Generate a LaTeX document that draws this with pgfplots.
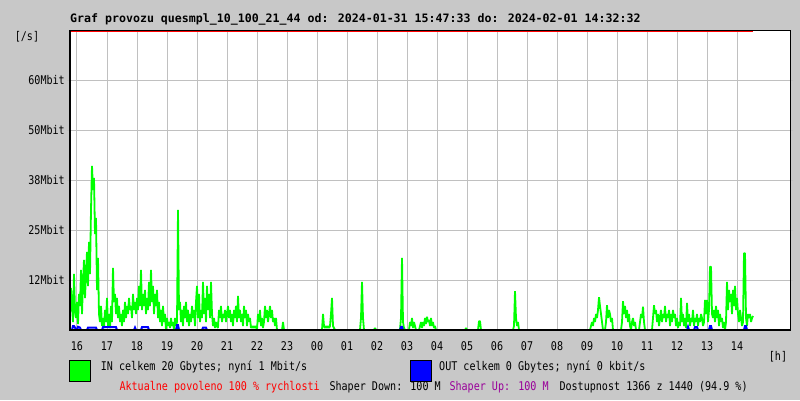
\documentclass[border=0pt]{standalone}
\usepackage{fontspec}
\usepackage{pgfplots}
\pgfplotsset{compat=1.18}
\newfontfamily\monof[FakeStretch=0.84]{DejaVu Sans Mono}
\newfontfamily\monot{DejaVu Sans Mono}
\newcommand{\mono}{\monof\fontsize{12}{12}\selectfont}
\definecolor{bg}{RGB}{200,200,200}
\definecolor{gridc}{RGB}{192,192,192}
\definecolor{ingreen}{RGB}{0,255,0}
\definecolor{outblue}{RGB}{0,0,255}
\definecolor{purp}{RGB}{153,0,153}
\pgfplotstableread{
k y
0 4
1 10.5
2 6
3 2
4 14
5 5
6 3
7 7
8 1.5
9 9
10 6
11 15
12 4
13 12
14 17.5
15 8
16 14
17 19.5
18 11
19 22
20 14
21 30
22 41
23 35
24 38
25 24
26 28
27 10
28 18
29 4
30 2
31 6
32 1
33 3
34 0.5
35 5
36 2
37 8
38 1
39 4
40 0.5
41 6
42 2
43 15.5
44 7
45 9
46 4
47 8
48 3
49 6
50 2
51 4
52 1
53 5
54 2
55 7
56 3
57 6
58 4
59 8
60 5
61 6
62 3
63 9
64 5
65 7
66 4
67 8
68 5
69 11
70 6
71 15
72 5
73 9
74 6
75 10
76 4
77 8
78 5
79 12
80 6
81 15
82 7
83 11
84 4
85 9
86 6
87 10
88 3
89 7
90 2
91 5
92 1
93 6
94 2
95 4
96 0
97 3
98 1
99 2
100 0.5
101 3
102 1
103 2
104 0
105 3
106 1
107 2
108 30
109 5
110 7
111 2
112 5
113 1
114 6
115 3
116 7
117 2
118 5
119 1
120 4
121 2
122 6
123 3
124 5
125 1
126 7
127 11
128 3
129 9
130 2
131 5
132 3
133 12
134 4
135 8
136 2
137 11
138 5
139 9
140 3
141 12
142 4
143 1
144 3
145 0.5
146 2
147 1
148 0.5
149 5
150 3
151 6
152 2
153 4
154 3
155 5
156 2
157 4
158 6
159 3
160 5
161 2
162 4
163 1
164 5
165 3
166 6
167 2
168 8.5
169 3
170 5
171 2
172 4
173 1
174 6
175 3
176 5
177 1
178 4
179 2
180 3
181 0.5
182 1
183 0.5
184 1
185 0.5
186 1
187 0
188 4
189 2
190 5
191 1
192 3
193 0.5
194 2
195 6
196 3
197 5
198 2
199 4
200 6
201 3
202 5
203 2
204 3
205 1
206 3
207 0
212 0
213 2
214 0
252 0
253 4
254 1
255 0.5
256 1
257 0.5
258 1
259 0.5
260 1
261 4
262 8
263 1
264 0.5
265 0
290 0
291 3
292 12
293 3
294 0
304 0
305 0.5
306 0
330 0
331 3
332 18
333 2
334 0.5
335 0
339 0
340 2
341 1
342 3
343 0.5
344 2
345 1
346 0
349 0
350 1
351 2
352 0.5
353 2
354 1
355 3
356 1.5
357 3.3
358 2
359 2.5
360 1
361 3
362 1
363 2
364 0.5
365 1
366 0
395 0
396 0.5
397 0
408 0
409 2.2
410 2.2
411 0
443 0
444 1
445 9.7
446 3
447 1
448 2
449 0
520 0
521 1
522 2
523 1
524 3
525 2
526 4
527 3
528 5
529 8.2
530 6
531 4
532 2
533 0
535 0
536 2
537 6.2
538 3
539 5
540 4
541 2
542 3
543 0
551 0
552 2
553 7.2
554 4
555 6
556 3
557 5
558 2
559 4
560 1
561 0
562 2
563 3
564 1
565 2
566 0
569 0
570 2
571 4
572 3
573 5.8
574 2
575 0
582 0
583 3
584 6.2
585 4
586 5
587 2
588 4
589 1
590 3
591 5
592 2
593 4
594 3
595 6
596 2
597 4
598 3
599 5
600 1
601 4
602 2
603 5
604 3
605 4
606 1
607 3
608 0.5
609 2
610 1
611 8
612 2
613 4
614 1
615 3
616 0.5
617 6.8
618 2
619 4
620 1
621 3
622 2
623 5
624 1
625 3
626 2
627 4
628 1
629 3
630 2
631 4
632 3
633 1
634 2
635 7.5
636 4
637 7.5
638 2
639 5
640 15.8
641 15.8
642 4
643 3
644 5
645 2
646 6
647 3
648 5
649 1
650 4
651 2
652 3
653 0.5
654 2
655 0
656 2
657 12
658 5
659 10
660 7
661 9
662 4
663 10
664 6
665 11
666 5
667 8
668 4
669 2
670 5
671 3
672 1
673 2
674 19.2
675 19.2
676 3
677 1
678 4
679 3
680 4
681 2
682 3
683 3.5
}\intable
\pgfplotstableread{
k y
2 0
3 1
4 1
5 0.6
6 0
nan nan
7 0
8 0.8
10 0.6
11 0
nan nan
17 0
18 0.6
26 0.6
27 0
nan nan
32 0
33 0.7
46 0.7
47 0
nan nan
64 0
65 0.6
66 0
nan nan
71 0
72 0.7
78 0.7
79 0
nan nan
106 0
107 1.2
108 1.2
109 0
nan nan
132 0
133 0.6
136 0.6
137 0
nan nan
330 0
331 0.8
332 0.8
333 0
nan nan
617 0
618 0.8
619 0
nan nan
624 0
625 0.7
627 0.7
628 0
nan nan
639 0
640 1
641 1
642 0
nan nan
674 0
675 1
676 1
677 0
}\outtable
\begin{document}
\begin{tikzpicture}
\path[use as bounding box, fill=bg] (-70pt,-70pt) rectangle (730pt,330pt);
\begin{axis}[
  at={(0pt,0pt)}, anchor=south west,
  scale only axis, width=720pt, height=300pt,
  xmin=0, xmax=720, ymin=0, ymax=75,
  axis background/.style={fill=white},
  axis line style={black, line width=1pt},
  xtick={7,37,...,667},
  xticklabels={16,17,18,19,20,21,22,23,00,01,02,03,04,05,06,07,08,09,10,11,12,13,14},
  ytick={12.5,25,37.5,50,62.5},
  yticklabels={12Mbit,25Mbit,38Mbit,50Mbit,60Mbit},
  grid=major, major grid style={gridc, line width=1pt},
  xtick style={draw=none},
  ytick style={gridc, line width=1pt},
  ytick align=outside, major tick length=3pt,
  tick label style={font=\mono},
  xticklabel style={anchor=base, inner sep=0pt, yshift=-20.7pt},
  yticklabel style={anchor=east, inner sep=0pt, xshift=-2pt},
  unbounded coords=jump,
]
\addplot[ingreen, line width=1.8pt, line join=bevel] table[x=k, y=y] {\intable};
\addplot[outblue, line width=2pt] table[x=k, y=y] {\outtable};
\addplot[red, line width=1pt] coordinates {(0,74.75) (683,74.75)};
\end{axis}
\draw[black, line width=2.4pt] (0pt,0pt) -- (720pt,0pt);
\draw[black, line width=2pt] (0pt,0pt) -- (0pt,300pt);
\node[anchor=base west, inner sep=0pt, font=\monot\fontsize{11.6}{12}\selectfont\bfseries] at (0pt,308pt) {Graf provozu quesmpl\_10\_100\_21\_44 od: 2024-01-31 15:47:33 do: 2024-02-01 14:32:32};
\node[anchor=center, inner sep=0pt, font=\mono] at (-43pt,293pt) {[/s]};
\node[anchor=center, inner sep=0pt, font=\mono] at (708pt,-27pt) {[h]};
\filldraw[fill=ingreen, draw=black, line width=1pt] (0pt,-30pt) rectangle (21pt,-51pt);
\filldraw[fill=outblue, draw=black, line width=1pt] (340pt,-30pt) rectangle (361pt,-51pt);
\node[anchor=base west, inner sep=0pt, font=\mono] at (30.7pt,-40.7pt) {IN celkem 20 Gbytes; nyní 1 Mbit/s};
\node[anchor=base west, inner sep=0pt, font=\mono] at (369pt,-40.7pt) {OUT celkem 0 Gbytes; nyní 0 kbit/s};
\node[anchor=base west, inner sep=0pt, font=\mono, text=red] at (49.3pt,-60.7pt) {Aktualne povoleno 100 \% rychlosti};
\node[anchor=base west, inner sep=0pt, font=\mono] at (259.3pt,-60.7pt) {Shaper Down: 100 M};
\node[anchor=base west, inner sep=0pt, font=\mono, text=purp] at (379.3pt,-60.7pt) {Shaper Up: 100 M};
\node[anchor=base west, inner sep=0pt, font=\mono] at (489.3pt,-60.7pt) {Dostupnost 1366 z 1440 (94.9 \%)};
\end{tikzpicture}
\end{document}
